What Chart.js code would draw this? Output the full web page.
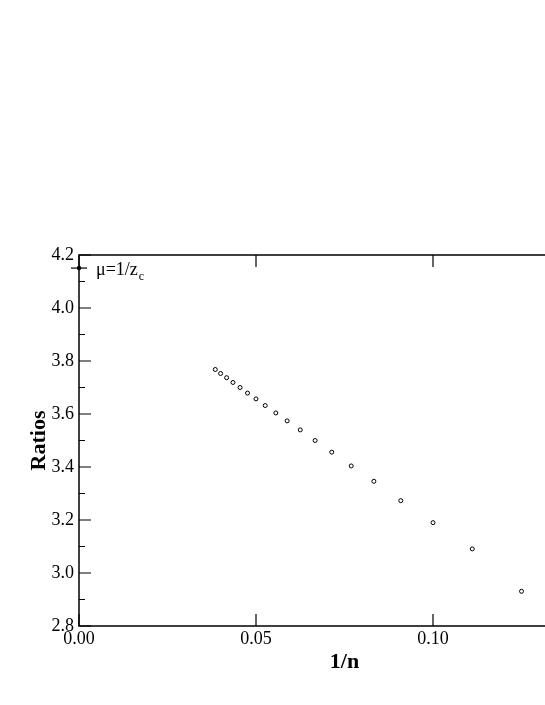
<!DOCTYPE html>
<html>
<head>
<meta charset="utf-8">
<script src="https://cdn.jsdelivr.net/npm/chart.js@4.4.0/dist/chart.umd.min.js"></script>
<style>
  html, body { margin: 0; padding: 0; background: #fff; overflow: hidden; }
  #wrap { width: 640px; height: 705px; }
</style>
</head>
<body>
<div id="wrap"><canvas id="myChart" width="640" height="705"></canvas></div>
<script>
// 1/n for n = 8 .. 26
const invN = [0.125, 0.1111, 0.1, 0.0909, 0.0833, 0.0769, 0.0714, 0.0667, 0.0625, 0.0588,
  0.0556, 0.0526, 0.05, 0.0476, 0.0455, 0.0435, 0.0417, 0.04, 0.0385];
const ratios = [2.931, 3.091, 3.190, 3.273, 3.346, 3.404, 3.456, 3.500, 3.540, 3.574,
  3.604, 3.632, 3.657, 3.679, 3.700, 3.719, 3.737, 3.753, 3.768];

// mu = 1/z_c marker
const muX = [0];
const muY = [4.1507];
const muLabel = "μ=1/z";
const muSub = "c";

const xMajor = [0, 0.05, 0.10, 0.15];
const yMajor = [2.8, 3.0, 3.2, 3.4, 3.6, 3.8, 4.0, 4.2];
const yMinor = [2.9, 3.1, 3.3, 3.5, 3.7, 3.9, 4.1];

const serif = "'Liberation Serif', 'Times New Roman', serif";

// frame with inward ticks, like the old xmgrace plots
const frame = {
  id: "frame",
  afterDatasetsDraw(chart) {
    const { ctx, chartArea: a, scales: { x, y } } = chart;
    ctx.save();
    ctx.strokeStyle = "#000";
    ctx.lineWidth = 1.2;
    ctx.beginPath();
    xMajor.forEach(v => {
      const px = x.getPixelForValue(v);
      ctx.moveTo(px, a.bottom); ctx.lineTo(px, a.bottom - 12);
      ctx.moveTo(px, a.top); ctx.lineTo(px, a.top + 12);
    });
    yMajor.forEach(v => {
      const py = y.getPixelForValue(v);
      ctx.moveTo(a.left, py); ctx.lineTo(a.left + 12, py);
      ctx.moveTo(a.right, py); ctx.lineTo(a.right - 12, py);
    });
    yMinor.forEach(v => {
      const py = y.getPixelForValue(v);
      ctx.moveTo(a.left, py); ctx.lineTo(a.left + 6, py);
      ctx.moveTo(a.right, py); ctx.lineTo(a.right - 6, py);
    });
    ctx.stroke();
    ctx.lineWidth = 1.5;
    ctx.strokeRect(a.left, a.top, a.right - a.left, a.bottom - a.top);

    // label next to the mu point
    const lx = x.getPixelForValue(muX[0]) + 17;
    const ly = y.getPixelForValue(muY[0]) + 7;
    ctx.fillStyle = "#000";
    ctx.textBaseline = "alphabetic";
    ctx.textAlign = "left";
    ctx.font = "18px " + serif;
    ctx.fillText(muLabel, lx, ly);
    const w = ctx.measureText(muLabel).width;
    ctx.font = "12px " + serif;
    ctx.fillText(muSub, lx + w + 1, ly + 5);
    ctx.restore();
  }
};

const ctx = document.getElementById("myChart").getContext("2d");
Chart.defaults.font.family = serif;
Chart.defaults.color = "#000";

const chart = new Chart(ctx, {
  type: "scatter",
  data: {
    datasets: [
      {
        label: "ratios",
        data: invN.map((v, i) => ({ x: v, y: ratios[i] })),
        pointStyle: "circle",
        pointRadius: 2,
        borderWidth: 1,
        borderColor: "#000",
        backgroundColor: "#fff",
        showLine: false
      },
      {
        label: "mu bar",
        data: muX.map((v, i) => ({ x: v, y: muY[i] })),
        pointStyle: "line",
        pointRadius: 8,
        borderWidth: 1.2,
        borderColor: "#000",
        clip: false
      },
      {
        label: "mu",
        data: muX.map((v, i) => ({ x: v, y: muY[i] })),
        pointStyle: "circle",
        pointRadius: 2.2,
        borderWidth: 0,
        backgroundColor: "#000",
        clip: false
      }
    ]
  },
  options: {
    responsive: false,
    animation: false,
    layout: { padding: { top: 255, right: 30, left: 0, bottom: 0 } },
    plugins: { legend: { display: false }, tooltip: { enabled: false } },
    scales: {
      x: {
        type: "linear",
        min: 0,
        max: 0.15,
        grid: { display: false, drawTicks: false },
        border: { display: false },
        afterBuildTicks: s => { s.ticks = xMajor.map(v => ({ value: v })); },
        afterFit: s => { s.height = 79; },
        ticks: {
          padding: 2,
          maxRotation: 0,
          font: { size: 18 },
          callback: v => v.toFixed(2)
        },
        title: {
          display: true,
          text: "1/n",
          font: { size: 22, weight: "bold" },
          padding: { top: 0, bottom: 29 }
        }
      },
      y: {
        min: 2.8,
        max: 4.2,
        grid: { display: false, drawTicks: false },
        border: { display: false },
        afterBuildTicks: s => { s.ticks = yMajor.map(v => ({ value: v })); },
        afterFit: s => { s.width = 79; },
        ticks: {
          padding: 5,
          font: { size: 18 },
          callback: v => v.toFixed(1)
        },
        title: {
          display: true,
          text: "Ratios",
          font: { size: 22, weight: "bold" },
          padding: { top: 26, bottom: 0 }
        }
      }
    }
  },
  plugins: [frame]
});
</script>
</body>
</html>
